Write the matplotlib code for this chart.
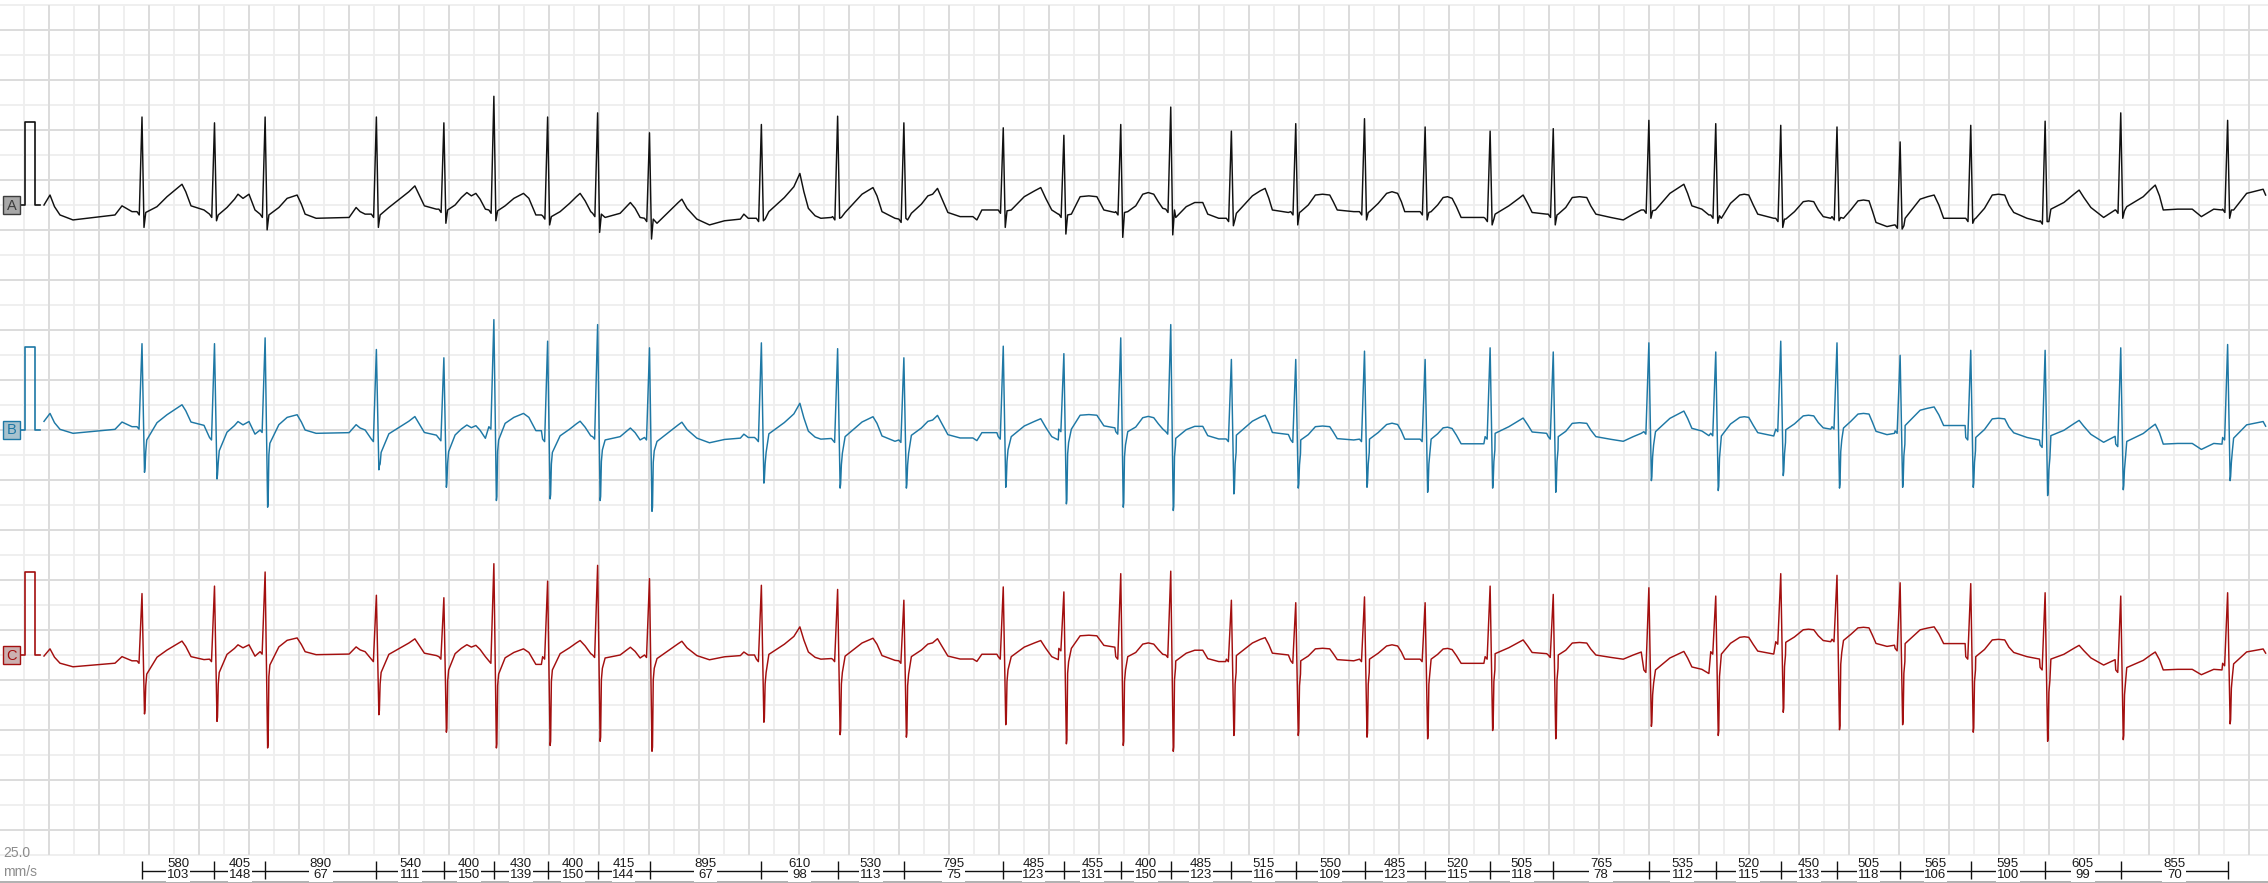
import matplotlib
matplotlib.use("Agg")
import matplotlib.pyplot as plt
from matplotlib.patches import Rectangle
import numpy as np

plt.rcParams["font.family"] = ["Liberation Sans", "DejaVu Sans"]

# ------------------------------------------------------------
# data read off the strip
# ------------------------------------------------------------
RR_MS = [580, 405, 890, 540, 400, 430, 400, 415, 895, 610, 530, 795, 485, 455, 400,
         485, 515, 550, 485, 520, 505, 765, 535, 520, 450, 505, 565, 595, 605, 855]
HR_BPM = [103, 148, 67, 111, 150, 139, 150, 144, 67, 98, 113, 75, 123, 131, 150,
          123, 116, 109, 123, 115, 118, 78, 112, 115, 133, 118, 106, 100, 99, 70]
FIRST_R_S = 1.144  # time of the first R wave on the strip

# R peak / S trough levels (mV, relative to the calibration baseline) and local baseline
R_A = [1.06, 0.99, 1.06, 1.06, 0.99, 1.31, 1.06, 1.11, 0.87, 0.97, 1.07, 0.99, 0.93, 0.84, 0.97, 1.18,
       0.89, 0.98, 1.04, 0.94, 0.89, 0.92, 1.02, 0.98, 0.96, 0.94, 0.76, 0.96, 1.01, 1.11, 1.02]
S_A = [-0.27, -0.19, -0.30, -0.27, -0.22, -0.19, -0.24, -0.33, -0.41, -0.19, -0.16, -0.16, -0.27, -0.35, -0.39, -0.36,
       -0.25, -0.24, -0.18, -0.18, -0.24, -0.24, -0.16, -0.22, -0.27, -0.19, -0.29, -0.22, -0.20, -0.16, -0.16]
BASE_A = [-0.08, -0.11, -0.11, -0.11, -0.05, -0.06, -0.13, -0.10, -0.16, -0.16, -0.14, -0.17, -0.06, -0.11, -0.08, -0.05,
          -0.16, -0.08, -0.08, -0.08, -0.16, -0.11, -0.06, -0.12, -0.16, -0.14, -0.24, -0.16, -0.19, -0.06, -0.05]

R_B = [1.04, 1.04, 1.11, 0.97, 0.87, 1.33, 1.07, 1.27, 0.99, 1.05, 0.98, 0.87, 1.01, 0.92, 1.11, 1.27,
       0.85, 0.85, 0.95, 0.85, 0.99, 0.94, 1.05, 0.94, 1.07, 1.05, 0.90, 0.96, 0.96, 0.99, 1.03]
S_B = [-0.51, -0.59, -0.93, -0.48, -0.69, -0.85, -0.83, -0.85, -0.98, -0.64, -0.70, -0.70, -0.69, -0.89, -0.93, -0.97,
       -0.77, -0.70, -0.69, -0.75, -0.70, -0.75, -0.61, -0.73, -0.55, -0.70, -0.69, -0.69, -0.79, -0.72, -0.61]
BASE_B = [0.04, -0.09, 0.00, -0.11, -0.10, 0.04, -0.11, -0.08, -0.09, -0.11, -0.12, -0.12, -0.08, 0.01, -0.02, -0.02,
          -0.11, -0.12, -0.11, -0.11, -0.08, -0.08, -0.02, -0.04, 0.01, 0.04, -0.01, -0.09, -0.18, -0.17, -0.09]

R_C = [0.74, 0.83, 1.00, 0.72, 0.69, 1.10, 0.89, 1.08, 0.92, 0.84, 0.79, 0.66, 0.82, 0.76, 0.98, 1.01,
       0.66, 0.63, 0.70, 0.63, 0.83, 0.73, 0.81, 0.71, 0.98, 0.96, 0.87, 0.86, 0.75, 0.71, 0.75]
S_C = [-0.71, -0.80, -1.12, -0.72, -0.93, -1.12, -1.09, -1.04, -1.16, -0.81, -0.96, -0.99, -0.84, -1.07, -1.09, -1.16,
       -0.97, -0.97, -0.99, -1.01, -0.91, -1.01, -0.86, -0.97, -0.69, -0.90, -0.84, -0.93, -1.04, -1.02, -0.83]
BASE_C = [-0.07, -0.05, 0.04, -0.05, -0.02, -0.07, -0.02, 0.00, 0.00, -0.05, -0.05, -0.07, -0.02, 0.08, -0.02, 0.00,
          -0.05, -0.07, -0.05, -0.05, -0.02, 0.00, -0.18, 0.04, 0.16, 0.19, 0.08, -0.02, -0.15, -0.18, -0.10]

# ST-T / P shape between beats: (ms after R, mV above the local baseline)
PRE_KNOTS = [(-784, 0.08), (-736, 0.20), (-700, 0.06), (-656, -0.04), (-552, -0.10),
             (-216, -0.04), (-160, 0.07), (-80, 0.0)]
TP_KNOTS = [
    [(120, 0.06), (200, 0.18), (280, 0.28), (320, 0.33), (350, 0.24), (392, 0.07), (496, 0.02)],
    [(100, 0.08), (160, 0.18), (188, 0.24), (228, 0.19), (276, 0.24), (324, 0.05)],
    [(110, 0.08), (176, 0.19), (256, 0.23), (290, 0.12), (320, 0.0), (408, -0.05), (672, -0.04),
     (700, 0.02), (728, 0.08), (760, 0.03), (800, 0.0)],
    [(100, 0.08), (192, 0.19), (260, 0.27), (308, 0.34), (340, 0.24), (384, 0.10), (480, 0.06)],
    [(90, 0.05), (140, 0.14), (184, 0.20), (220, 0.16), (256, 0.19), (290, 0.12), (332, 0.0)],
    [(90, 0.05), (160, 0.14), (237, 0.20), (280, 0.14), (336, -0.06), (380, -0.06)],
    [(100, 0.05), (176, 0.15), (230, 0.23), (260, 0.27), (300, 0.18), (345, 0.05)],
    [(60, -0.05), (180, 0.0), (230, 0.08), (262, 0.13), (300, 0.06), (340, -0.05)],
    [(60, -0.06), (175, 0.11), (230, 0.19), (259, 0.23), (300, 0.12), (379, -0.01), (480, -0.08),
     (600, -0.03), (727, -0.01), (755, 0.05), (790, 0.0), (840, 0.0)],
    [(60, 0.08), (184, 0.25), (260, 0.38), (308, 0.54), (340, 0.32), (376, 0.12), (430, 0.03),
     (476, 0.0), (560, 0.01)],
    [(60, 0.05), (195, 0.27), (250, 0.32), (283, 0.35), (315, 0.25), (355, 0.06), (459, -0.02)],
    [(60, 0.07), (140, 0.18), (192, 0.28), (230, 0.30), (269, 0.37), (300, 0.26), (352, 0.08),
     (450, 0.03), (552, 0.03), (584, -0.01), (624, 0.11), (744, 0.11)],
    [(64, 0.0), (168, 0.16), (250, 0.23), (300, 0.27), (340, 0.14), (388, 0.0), (440, -0.05)],
    [(60, 0.0), (100, 0.12), (130, 0.21), (200, 0.22), (264, 0.21), (295, 0.12), (320, 0.05), (408, 0.02)],
    [(56, 0.0), (120, 0.07), (176, 0.21), (220, 0.23), (264, 0.21), (300, 0.12), (336, 0.04)],
    [(40, -0.10), (124, 0.03), (192, 0.08), (256, 0.08), (296, -0.06), (384, -0.11), (440, -0.11)],
    [(40, 0.06), (168, 0.27), (230, 0.33), (270, 0.36), (300, 0.24), (328, 0.10), (456, 0.07)],
    [(40, 0.0), (100, 0.08), (157, 0.20), (215, 0.21), (272, 0.20), (300, 0.12), (332, 0.02), (464, 0.0)],
    [(40, 0.0), (110, 0.10), (177, 0.22), (220, 0.24), (265, 0.22), (295, 0.12), (322, 0.0), (430, 0.0)],
    [(48, 0.0), (100, 0.08), (144, 0.17), (180, 0.18), (216, 0.16), (250, 0.06), (288, -0.07), (470, -0.07)],
    [(40, 0.05), (150, 0.15), (230, 0.24), (264, 0.28), (300, 0.18), (336, 0.07), (452, 0.05)],
    [(40, 0.0), (100, 0.08), (152, 0.20), (210, 0.21), (268, 0.20), (300, 0.10), (341, 0.0),
     (460, -0.04), (560, -0.07), (640, 0.0), (704, 0.05)],
    [(53, 0.0), (168, 0.20), (240, 0.27), (280, 0.31), (310, 0.20), (344, 0.05), (424, 0.01), (480, -0.06)],
    [(45, -0.04), (118, 0.14), (192, 0.24), (228, 0.25), (264, 0.24), (300, 0.12), (336, 0.01), (464, -0.04)],
    [(40, -0.01), (110, 0.08), (180, 0.20), (222, 0.21), (264, 0.20), (300, 0.10), (340, 0.02), (400, 0.0)],
    [(52, -0.02), (110, 0.08), (168, 0.19), (212, 0.20), (256, 0.19), (285, 0.06), (312, -0.07),
     (400, -0.12), (460, -0.10)],
    [(40, 0.08), (160, 0.31), (220, 0.34), (272, 0.36), (310, 0.24), (348, 0.08), (520, 0.08)],
    [(40, 0.0), (110, 0.12), (172, 0.28), (222, 0.29), (272, 0.28), (305, 0.16), (344, 0.07),
     (450, 0.0), (550, -0.04)],
    [(46, 0.14), (150, 0.22), (230, 0.32), (272, 0.37), (310, 0.28), (366, 0.16), (468, 0.04), (560, 0.13)],
    [(48, 0.04), (180, 0.16), (240, 0.25), (276, 0.30), (310, 0.17), (340, 0.0), (456, 0.01),
     (572, 0.01), (645, -0.08), (744, 0.01), (810, 0.0)],
    [(48, -0.01), (152, 0.19), (230, 0.22), (284, 0.24), (304, 0.17)],
]

# ------------------------------------------------------------
# layout (paper units: seconds across, millimetres down)
# ------------------------------------------------------------
GAIN = 16.6          # mm per mV (height of the calibration pulse)
X0, X1 = 0.008, 18.152
Y_TOP, Y_BOT = -1.0, 175.6
GRID_BOTTOM = 170.0
PX = 0.72            # one device pixel in points at 100 dpi

R_TIMES = FIRST_R_S + np.concatenate([[0], np.cumsum(RR_MS)]) / 1000.0

channels = [
    # label, baseline mm, colour, box face, box edge, R, S, base, T scale, qrs type
    ("A", 40.0, "#111111", "#a8a8a8", "#3c3c3c", R_A, S_A, BASE_A, 1.0, "narrow"),
    ("B", 85.0, "#1e78a5", "#a7c2ce", "#1e78a5", R_B, S_B, BASE_B, 0.8, "rs"),
    ("C", 130.0, "#a30f0f", "#cbb0b0", "#a30f0f", R_C, S_C, BASE_C, 0.72, "rs"),
]


def build_trace(r_abs, s_abs, base, scale, qrs):
    ts, vs = [], []
    for dt, v in PRE_KNOTS:
        ts.append(R_TIMES[0] + dt / 1000.0)
        vs.append(base[0] + v * scale)
    for i, tr in enumerate(R_TIMES):
        b = base[i]
        if qrs == "narrow":
            pts = [(-40, b), (-22, b - 0.04), (0, r_abs[i]), (16, s_abs[i]), (30, b - 0.01)]
        else:
            pts = [(-40, b), (-24, b - 0.03), (0, r_abs[i]), (20, s_abs[i]), (24, s_abs[i] + 0.05),
                   (30, b - 0.30), (38, b - 0.16)]
        for dt, v in pts:
            ts.append(tr + dt / 1000.0)
            vs.append(v)
        for dt, v in TP_KNOTS[i]:
            ts.append(tr + dt / 1000.0)
            vs.append(b + v * scale)
    return np.array(ts), np.array(vs)


fig = plt.figure(figsize=(22.68, 8.83), dpi=100)
ax = fig.add_axes([0, 0, 1, 1])
ax.set_xlim(X0, X1)
ax.set_ylim(Y_BOT, Y_TOP)
ax.axis("off")

# paper grid: light 5 mm lines, darker every 10 mm
for k in range(1, 91):
    major = k % 2 == 0
    ax.vlines(0.2 * k, 0, GRID_BOTTOM, color="#dcdcdc" if major else "#efefef",
              lw=2 * PX, zorder=2 if major else 1, snap=True)
for k in range(0, 35):
    major = k % 2 == 1
    ax.hlines(5.0 * k, X0, X1, color="#dcdcdc" if major else "#efefef",
              lw=2 * PX, zorder=2 if major else 1, snap=True)

# traces, labels, calibration pulses
cal_t = [0.168, 0.208, 0.208, 0.288, 0.288, 0.328]
cal_v = [0, 0, 1, 1, 0, 0]
for name, y0, col, face, edge, r_abs, s_abs, base, scale, qrs in channels:
    t, v = build_trace(r_abs, s_abs, base, scale, qrs)
    ax.plot(t, y0 - v * GAIN, color=col, lw=1.05, zorder=4, solid_joinstyle="round")
    ax.plot(cal_t, [y0 - c * GAIN for c in cal_v], color=col, lw=1.2, zorder=4)
    ax.add_patch(Rectangle((0.032, y0 - 1.8), 0.136, 3.6, facecolor=face,
                           edgecolor=edge, lw=1.0, zorder=5))
    ax.text(0.100, y0 + 0.1, name, ha="center", va="center", fontsize=10.5,
            color=edge, zorder=6)

# paper speed
ax.text(0.032, 169.6, "25.0", ha="left", va="center", fontsize=10, color="#8c8c8c", zorder=6)
ax.text(0.032, 173.4, "mm/s", ha="left", va="center", fontsize=10, color="#8c8c8c", zorder=6)

# RR interval / heart rate ruler
ax.hlines(173.2, R_TIMES[0], R_TIMES[-1], color="#111111", lw=1.0, zorder=3)
ax.vlines(R_TIMES, 171.2, 174.8, color="#111111", lw=1.0, zorder=3)
for i, (rr, hr) in enumerate(zip(RR_MS, HR_BPM)):
    mid = 0.5 * (R_TIMES[i] + R_TIMES[i + 1])
    ax.text(mid, 172.9, f"{rr}\n{hr}", ha="center", va="center", fontsize=9.5,
            linespacing=0.95, color="#1a1a1a", zorder=5,
            bbox=dict(facecolor="white", edgecolor="none", pad=0.6))

ax.hlines(175.4, X0, X1, color="#b0b0b0", lw=1.4, zorder=3)

fig.savefig("out.png", dpi=100, facecolor="white")
